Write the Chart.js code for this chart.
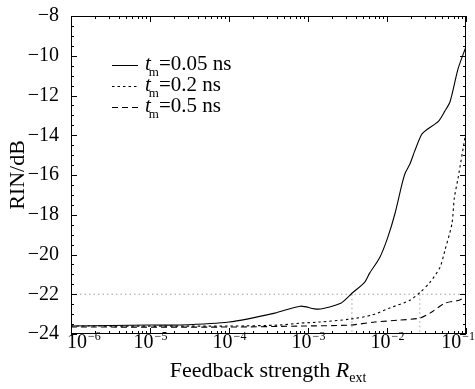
<!DOCTYPE html>
<html>
<head>
<meta charset="utf-8">
<script src="https://cdn.jsdelivr.net/npm/chart.js@4.4.0/dist/chart.umd.min.js"></script>
<style>
  html, body { margin: 0; padding: 0; background: #fff; }
  #wrap { width: 475px; height: 389px; position: relative; }
</style>
</head>
<body>
<div id="wrap"><canvas id="chart-rin"></canvas></div>
<script>
// ---- values ----
// t_m = 0.05 ns (solid)
const rSolid   = [1e-6, 1e-5, 2.4e-5, 1e-4, 3.8e-4, 8e-4, 1.35e-3, 2.6e-3, 3.6e-3, 5.2e-3, 6.0e-3, 8.1e-3,
                  0.0102, 0.0126, 0.0155, 0.017, 0.0195, 0.0224, 0.0275, 0.0324, 0.0447, 0.0537, 0.063, 0.0794, 0.0977];
const rinSolid = [-23.6, -23.55, -23.55, -23.4, -22.95, -22.6, -22.75, -22.45, -21.95, -21.4, -20.95, -20.15,
                  -19.15, -17.95, -16.45, -15.9, -15.45, -14.8, -13.95, -13.7, -13.3, -12.8, -12.3, -10.65, -9.65];
// t_m = 0.2 ns (dotted)
const rDotted   = [1e-6, 1e-4, 4.4e-4, 8e-4, 1.4e-3, 3.4e-3, 6.4e-3, 0.0107, 0.0195, 0.0263, 0.035, 0.0468,
                   0.054, 0.0664, 0.0712, 0.0794, 0.1];
const rinDotted = [-23.6, -23.6, -23.55, -23.45, -23.4, -23.25, -23.05, -22.7, -22.3, -21.9, -21.4, -20.65,
                   -19.8, -18.45, -17.15, -16.15, -13.8];
// t_m = 0.5 ns (dashed)
const rDashed   = [1e-6, 1e-4, 8e-4, 3.4e-3, 7e-3, 0.0145, 0.026, 0.035, 0.054, 0.082, 0.095];
const rinDashed = [-23.65, -23.65, -23.6, -23.55, -23.4, -23.3, -23.2, -22.95, -22.45, -22.3, -22.15];

// -22 dB threshold and where the curves cross it
const thresholdRin = -22;
const crossR = [3.6e-3, 0.026];

const legendLabels = ['=0.05 ns', '=0.2 ns', '=0.5 ns'];
const xDecades   = [1e-6, 1e-5, 1e-4, 1e-3, 1e-2, 1e-1];
const xDecadeExp = ['−6', '−5', '−4', '−3', '−2', '−1'];
const yTicks     = [-24, -22, -20, -18, -16, -14, -12, -10, -8];

const SERIF = "'Liberation Serif', 'DejaVu Serif', serif";
Chart.defaults.font.family = SERIF;
Chart.defaults.color = '#000';

const pts = (xs, ys) => xs.map((x, i) => ({ x, y: ys[i] }));

const refStyle = {
  borderColor: '#a0a0a0', borderWidth: 1, borderDash: [1.5, 3],
  pointRadius: 0, fill: false, tension: 0,
};

// frame, inward ticks, x labels, x title and the in-plot legend
const framePlugin = {
  id: 'frame',
  afterDraw(chart) {
    const { ctx, chartArea: a, scales: { x, y } } = chart;
    ctx.save();
    ctx.strokeStyle = '#000';
    ctx.lineWidth = 1;
    ctx.strokeRect(a.left + 0.5, a.top + 0.5, a.right - a.left - 1, a.bottom - a.top - 1);

    ctx.beginPath();
    const tickX = (v, len) => {
      const px = Math.round(x.getPixelForValue(v)) + 0.5;
      ctx.moveTo(px, a.bottom); ctx.lineTo(px, a.bottom - len);
      ctx.moveTo(px, a.top);    ctx.lineTo(px, a.top + len);
    };
    const tickY = (v, len) => {
      const py = Math.round(y.getPixelForValue(v)) + 0.5;
      ctx.moveTo(a.left, py);  ctx.lineTo(a.left + len, py);
      ctx.moveTo(a.right, py); ctx.lineTo(a.right - len, py);
    };
    xDecades.forEach((d, i) => {
      tickX(d, 6);
      if (i < xDecades.length - 1) for (let k = 2; k <= 9; k++) tickX(d * k, 3);
    });
    for (let v = y.min; v <= y.max; v += 0.5) tickY(v, v % 2 === 0 ? 6 : 3);
    ctx.stroke();

    // x tick labels 10^n
    ctx.fillStyle = '#000';
    ctx.textBaseline = 'alphabetic';
    ctx.textAlign = 'left';
    xDecades.forEach((d, i) => {
      const px = x.getPixelForValue(d);
      ctx.font = `20px ${SERIF}`;
      const wb = ctx.measureText('10').width;
      ctx.font = `12px ${SERIF}`;
      const we = ctx.measureText(xDecadeExp[i]).width;
      let left = px - (wb + we) / 2;
      left = Math.max(67, Math.min(left, chart.width - wb - we - 1));
      ctx.font = `20px ${SERIF}`;
      ctx.fillText('10', left, a.bottom + 14);
      ctx.font = `12px ${SERIF}`;
      ctx.fillText(xDecadeExp[i], left + wb + 1, a.bottom + 6);
    });

    // x title: Feedback strength R_ext
    const parts = [
      { t: 'Feedback strength ', f: `22px ${SERIF}`, dy: 0 },
      { t: 'R', f: `italic 22px ${SERIF}`, dy: 0 },
      { t: 'ext', f: `14px ${SERIF}`, dy: 5 },
    ];
    let total = 0;
    parts.forEach(p => { ctx.font = p.f; p.w = ctx.measureText(p.t).width; total += p.w; });
    let cx = 268 - total / 2;
    parts.forEach(p => { ctx.font = p.f; ctx.fillText(p.t, cx, 377 + p.dy); cx += p.w; });

    // legend
    chart.data.datasets.slice(0, 3).forEach((ds, i) => {
      const ry = 65 + i * 21;
      ctx.beginPath();
      ctx.setLineDash(ds.borderDash || []);
      ctx.lineWidth = 1;
      ctx.moveTo(112, ry + 0.5); ctx.lineTo(138, ry + 0.5);
      ctx.stroke();
      ctx.setLineDash([]);
      let tx = 145;
      ctx.font = `italic 21px ${SERIF}`;
      ctx.fillText('t', tx, ry + 5);
      tx += ctx.measureText('t').width - 2;
      ctx.font = `13px ${SERIF}`;
      ctx.fillText('m', tx, ry + 11);
      tx += ctx.measureText('m').width;
      ctx.font = `21px ${SERIF}`;
      ctx.fillText(legendLabels[i], tx, ry + 5);
    });
    ctx.restore();
  },
};

new Chart(document.getElementById('chart-rin'), {
  type: 'line',
  data: {
    datasets: [
      { label: 't_m=0.05 ns', data: pts(rSolid, rinSolid), borderColor: '#000', borderWidth: 1.1,
        pointRadius: 0, tension: 0.25, borderDash: [] },
      { label: 't_m=0.2 ns', data: pts(rDotted, rinDotted), borderColor: '#000', borderWidth: 1.1,
        pointRadius: 0, tension: 0.25, borderDash: [2.5, 3] },
      { label: 't_m=0.5 ns', data: pts(rDashed, rinDashed), borderColor: '#000', borderWidth: 1.1,
        pointRadius: 0, tension: 0.25, borderDash: [6, 4] },
      { label: 'threshold', data: [{ x: xDecades[0], y: thresholdRin }, { x: xDecades[5], y: thresholdRin }], ...refStyle },
      { label: 'cross1', data: [{ x: crossR[0], y: thresholdRin }, { x: crossR[0], y: yTicks[0] }], ...refStyle },
      { label: 'cross2', data: [{ x: crossR[1], y: thresholdRin }, { x: crossR[1], y: yTicks[0] }], ...refStyle },
    ],
  },
  options: {
    responsive: true,
    maintainAspectRatio: false,
    animation: false,
    layout: { padding: { left: 0, top: 14, right: 9, bottom: 0 } },
    plugins: { legend: { display: false }, tooltip: { enabled: false } },
    scales: {
      x: {
        type: 'logarithmic',
        min: xDecades[0],
        max: xDecades[xDecades.length - 1],
        grid: { display: false },
        border: { display: false },
        ticks: { display: false },
        afterFit: s => { s.height = 55; },
      },
      y: {
        min: yTicks[0],
        max: yTicks[yTicks.length - 1],
        grid: { display: false },
        border: { display: false },
        afterBuildTicks: s => { s.ticks = yTicks.map(v => ({ value: v })); },
        ticks: { callback: v => '−' + Math.abs(v), font: { size: 20 }, padding: 4, color: '#000' },
        title: { display: true, text: 'RIN/dB', font: { size: 22 }, color: '#000', padding: { top: 5, bottom: 0 } },
        afterFit: s => { s.width = 71; },
      },
    },
  },
  plugins: [framePlugin],
});
</script>
</body>
</html>
